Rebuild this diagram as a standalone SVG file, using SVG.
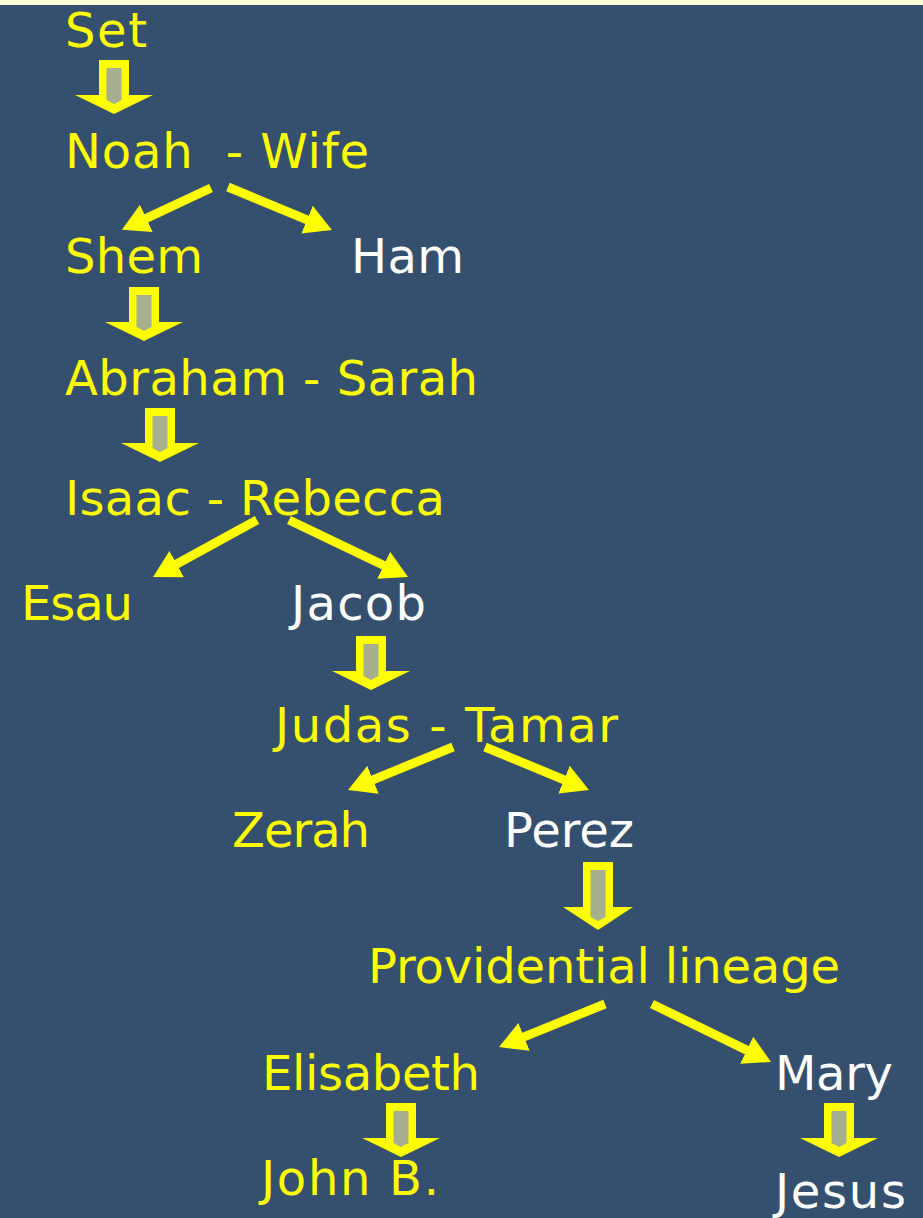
<svg xmlns="http://www.w3.org/2000/svg" xmlns:xlink="http://www.w3.org/1999/xlink" width="923" height="1218" viewBox="0 0 923 1218">
<style>
text{font-family:"DejaVu Sans","Liberation Sans",sans-serif;font-size:48px}
.y{fill:#ffff00}
.w{fill:#ffffff}
.ln{stroke:#ffff00;stroke-width:9;fill:none}
</style>
<defs>
<marker id="ah" markerUnits="userSpaceOnUse" viewBox="0 0 27 30" markerWidth="27" markerHeight="30" refX="12" refY="15" orient="auto">
<path d="M0,0 L27,15 L0,30 Z" fill="#ffff00"/>
</marker>
<g id="blk">
<path d="M-15,0 H15 V35 H39 L0,54 L-39,35 H-15 Z" fill="#ffff00"/>
<path d="M-7.5,8 H7.5 V40 L0,44 L-7.5,40 Z" fill="#a6b08e"/>
</g>
</defs>
<rect width="923" height="1218" fill="#35506e"/>
<rect width="923" height="5" fill="#fffbd2"/>
<g id="connectors">
<use xlink:href="#blk" href="#blk" transform="translate(114,60)"/>
<use xlink:href="#blk" href="#blk" transform="translate(144,287)"/>
<use xlink:href="#blk" href="#blk" transform="translate(160,408)"/>
<use xlink:href="#blk" href="#blk" transform="translate(371,636)"/>
<g>
<path d="M-15,0 H15 V45 H35 L0,68 L-35,45 H-15 Z" fill="#ffff00" transform="translate(598,862)"/>
<path d="M-7.5,8 H7.5 V55 L0,59 L-7.5,55 Z" fill="#a6b08e" transform="translate(598,862)"/>
</g>
<use xlink:href="#blk" href="#blk" transform="translate(401,1103)"/>
<use xlink:href="#blk" href="#blk" transform="translate(839,1103)"/>
<line class="ln" x1="211" y1="188" x2="135.5" y2="223.4" marker-end="url(#ah)"/>
<line class="ln" x1="228" y1="187" x2="318.1" y2="224.3" marker-end="url(#ah)"/>
<line class="ln" x1="257" y1="520" x2="166.2" y2="569.8" marker-end="url(#ah)"/>
<line class="ln" x1="289" y1="520" x2="394.5" y2="570.5" marker-end="url(#ah)"/>
<line class="ln" x1="453" y1="747" x2="361.9" y2="784.3" marker-end="url(#ah)"/>
<line class="ln" x1="485" y1="747" x2="575.1" y2="784.3" marker-end="url(#ah)"/>
<line class="ln" x1="605" y1="1004" x2="512.9" y2="1041.4" marker-end="url(#ah)"/>
<line class="ln" x1="652" y1="1004" x2="757.5" y2="1055.4" marker-end="url(#ah)"/>
</g>
<g id="n-set"><text class="y" x="65" y="47" textLength="82" lengthAdjust="spacing">Set</text></g>
<g id="n-noah"><text class="y" x="65" y="168" xml:space="preserve" textLength="304" lengthAdjust="spacing">Noah  - Wife</text></g>
<g id="n-shem"><text class="y" x="65" y="273" textLength="138" lengthAdjust="spacing">Shem</text></g>
<g id="n-ham"><text class="w" x="351" y="273" textLength="113" lengthAdjust="spacing">Ham</text></g>
<g id="n-abraham"><text class="y" x="65" y="395" textLength="413" lengthAdjust="spacing">Abraham - Sarah</text></g>
<g id="n-isaac"><text class="y" x="65" y="515" textLength="380" lengthAdjust="spacing">Isaac - Rebecca</text></g>
<g id="n-esau"><text class="y" x="21" y="620" textLength="112" lengthAdjust="spacing">Esau</text></g>
<g id="n-jacob"><text class="w" x="291" y="620" textLength="135" lengthAdjust="spacing">Jacob</text></g>
<g id="n-judas"><text class="y" x="275" y="742" textLength="343" lengthAdjust="spacing">Judas - Tamar</text></g>
<g id="n-zerah"><text class="y" x="232" y="847" textLength="138" lengthAdjust="spacing">Zerah</text></g>
<g id="n-perez"><text class="w" x="504" y="847" textLength="130" lengthAdjust="spacing">Perez</text></g>
<g id="n-prov"><text class="y" x="368" y="983" textLength="472" lengthAdjust="spacing">Providential lineage</text></g>
<g id="n-elisabeth"><text class="y" x="262" y="1090" textLength="218" lengthAdjust="spacing">Elisabeth</text></g>
<g id="n-mary"><text class="w" x="775" y="1090" textLength="118" lengthAdjust="spacing">Mary</text></g>
<g id="n-john"><text class="y" x="261" y="1195" textLength="178" lengthAdjust="spacing">John B.</text></g>
<g id="n-jesus"><text class="w" x="775" y="1208" textLength="131" lengthAdjust="spacing">Jesus</text></g>
</svg>
